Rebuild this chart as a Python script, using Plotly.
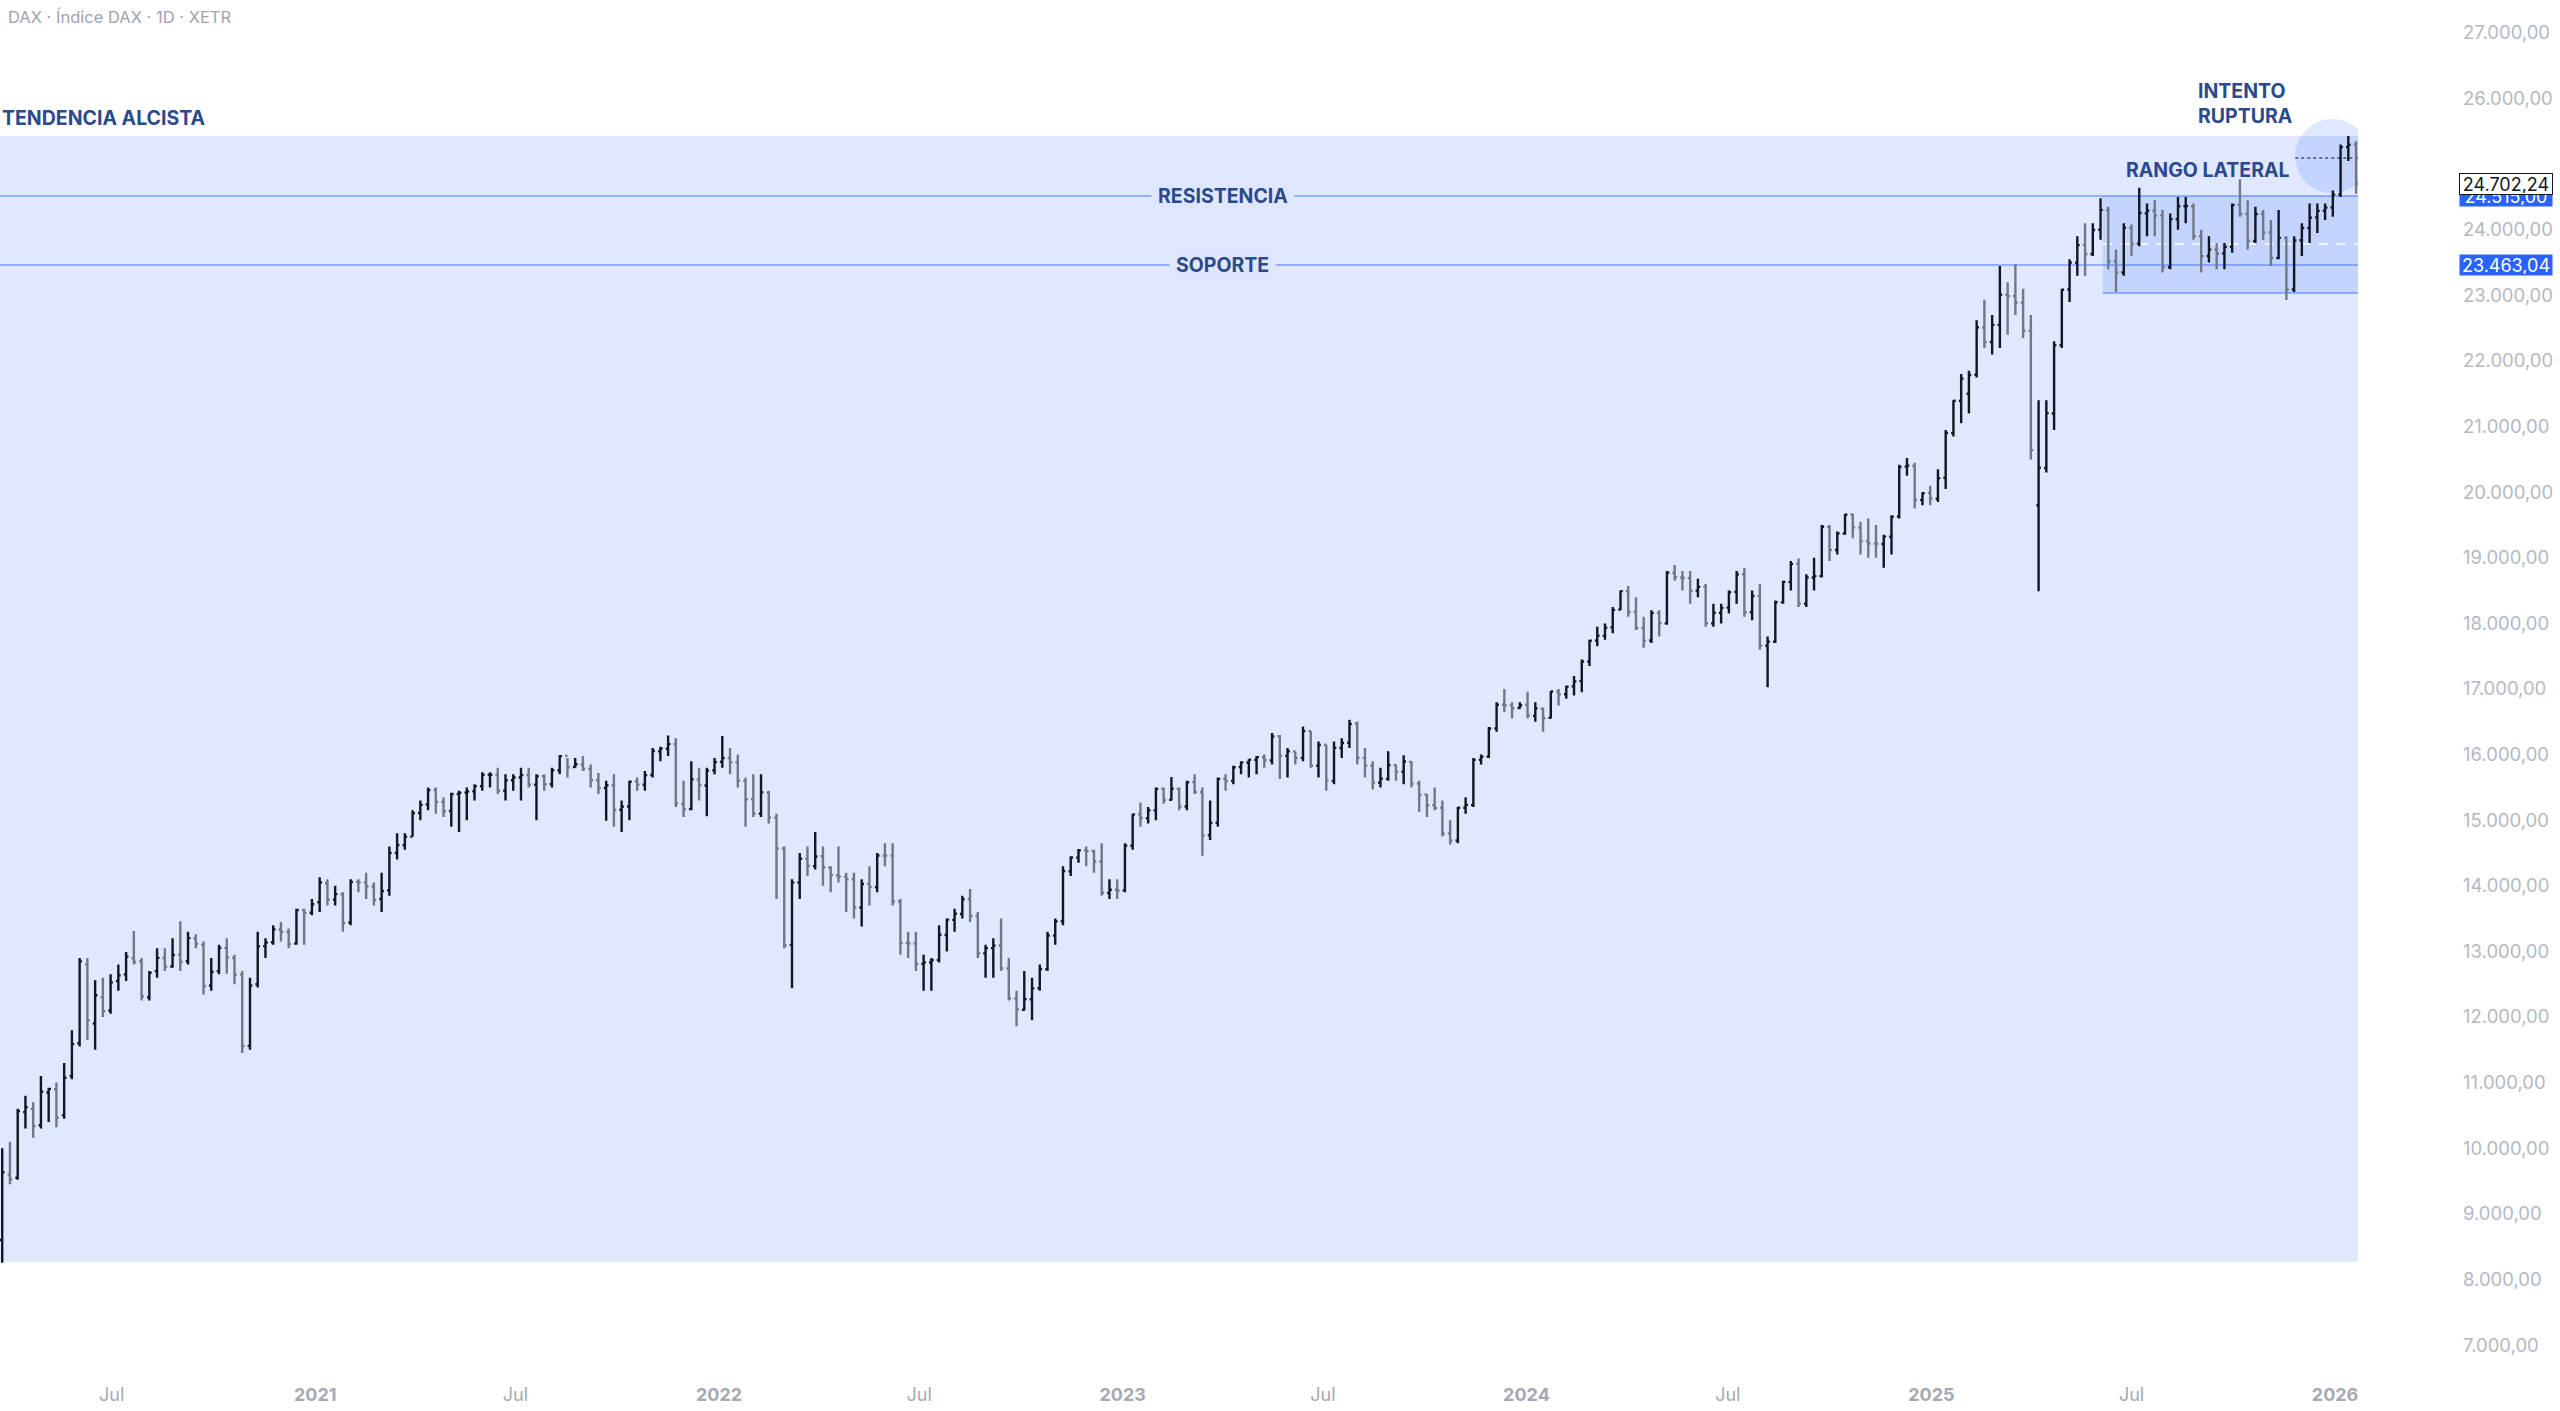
import pandas as pd
import plotly.graph_objects as go

# ---------------- DATA (weekly OHLC, DAX 1D chart) ----------------
open_ = [
    # 2020 (from week of 23 Mar)
    8600, 9600, 9550, 10550, 10600, 10350, 10850, 10900, 10500, 11100, 11600, 12800, 11900, 12300, 12100,
    12550, 12650, 12900, 12850, 12300, 12700, 12900, 12770, 12950, 12850, 13200, 13100, 12480, 12700, 13050,
    12900, 12650, 11560, 12500, 13080, 13140, 13330, 13300, 13120, 13630, 13590,
    # 2021
    13750, 14040, 13790, 13870, 13440, 14060, 14050, 13990, 13800, 13930, 14500, 14620, 14750, 15110, 15240,
    15460, 15280, 15140, 15400, 15420, 15440, 15520, 15690, 15690, 15450, 15610, 15650, 15690, 15540, 15670,
    15550, 15760, 15980, 15810, 15850, 15780, 15610, 15490, 15530, 15160, 15210, 15590, 15540, 15690, 16050,
    16090, 16160, 15250, 15170, 15620, 15530, 15760,
    # 2022
    15890, 15950, 15880, 15600, 15320, 15100, 15420, 15040, 14570, 13100, 14050, 14410, 14300, 14450, 14280,
    14160, 14140, 14100, 13670, 14030, 13980, 14460, 14460, 13760, 13130, 13120, 12810, 12830, 12870, 13250,
    13480, 13570, 13800, 13540, 12970, 13050, 13090, 12740, 12280, 12110, 12270, 12440, 12730, 13240, 13460,
    14220, 14430, 14540, 14530, 14370, 13890, 13940,
    # 2023
    13930, 14610, 15090, 15030, 15150, 15480, 15310, 15480, 15210, 15580, 15430, 14770, 14960, 15630, 15600,
    15810, 15880, 15920, 15960, 15910, 16280, 15980, 16050, 15950, 16360, 15830, 16150, 15600, 16100, 16180,
    16470, 15950, 15830, 15570, 15630, 15840, 15740, 15890, 15560, 15390, 15230, 15190, 14800, 14690, 15190,
    15230, 15920, 15970, 16400, 16760, 16750, 16710,
    # 2024
    16760, 16590, 16700, 16560, 16960, 16920, 17040, 17120, 17420, 17740, 17810, 17940, 18210, 18490, 18180,
    17930, 17740, 18160, 18000, 18770, 18700, 18690, 18500, 18560, 18000, 18160, 18240, 18480, 18750, 18170,
    18420, 17660, 17720, 18320, 18630, 18910, 18300, 18700, 18720, 19470, 19120, 19370, 19660, 19460, 19250,
    19220, 19210, 19320, 19630, 20390, 20400, 19880, 19990,
    # 2025 - 2026
    19900, 20220, 20900, 21390, 21500, 21790, 22510, 22290, 22550, 23010, 22990, 22890, 22460, 19800, 20370,
    21200, 22240, 23090, 23500, 23770, 23630, 24000, 24300, 23520, 23350, 24030, 23790, 24250, 24290, 24220,
    23430, 24160, 24360, 24360, 23900, 23600, 23700, 23640, 23740, 24380, 24240, 23830, 24240, 23960, 23570,
    23880, 23090, 23840, 24030, 24190, 24290, 24340, 24540, 25260, 25300,
]

high = [
    # 2020
    10000, 10100, 10600, 10800, 10700, 11100, 10920, 11000, 11300, 11800, 12900, 12900, 12560, 12600, 12650,
    12800, 12990, 13313, 12900, 12700, 13050, 13050, 13200, 13460, 13300, 13260, 13150, 12900, 13100, 13200,
    12950, 12700, 12600, 13300, 13200, 13400, 13450, 13350, 13650, 13650, 13800,
    # 2021
    14130, 14100, 14000, 13900, 14100, 14100, 14200, 14050, 14200, 14600, 14800, 14800, 15150, 15300, 15500,
    15500, 15350, 15420, 15450, 15500, 15550, 15730, 15730, 15800, 15700, 15700, 15800, 15800, 15700, 15700,
    15800, 15990, 15950, 15950, 15980, 15850, 15720, 15600, 15700, 15300, 15600, 15650, 15750, 16100, 16120,
    16290, 16250, 15600, 15900, 15800, 15800, 15950,
    # 2022
    16285, 16100, 16000, 15650, 15700, 15700, 15450, 15100, 14600, 14100, 14500, 14600, 14820, 14600, 14300,
    14600, 14200, 14200, 14100, 14300, 14500, 14650, 14650, 13800, 13300, 13300, 12950, 12900, 13400, 13500,
    13650, 13850, 13950, 13600, 13100, 13200, 13500, 12900, 12400, 12700, 12600, 12800, 13300, 13500, 14300,
    14450, 14560, 14600, 14550, 14650, 14100, 14100,
    # 2023
    14650, 15100, 15270, 15200, 15500, 15500, 15660, 15500, 15600, 15700, 15500, 15300, 15650, 15700, 15830,
    15900, 15930, 15980, 16000, 16330, 16300, 16100, 16050, 16430, 16360, 16200, 16150, 16200, 16250, 16530,
    16500, 16100, 15900, 15800, 16050, 15850, 15990, 15900, 15600, 15400, 15500, 15300, 15000, 15200, 15350,
    15950, 16000, 16420, 16800, 17000, 16800, 16800,
    # 2024
    16960, 16800, 16720, 16970, 17000, 17050, 17200, 17450, 17750, 17950, 18000, 18250, 18500, 18570, 18400,
    18100, 18200, 18200, 18800, 18890, 18800, 18800, 18680, 18600, 18300, 18300, 18500, 18800, 18850, 18500,
    18600, 17800, 18350, 18650, 18950, 18990, 18750, 19000, 19500, 19500, 19400, 19670, 19670, 19550, 19600,
    19500, 19350, 19650, 20420, 20520, 20450, 20000, 20100,
    # 2025 - 2026
    20350, 20950, 21400, 21800, 21850, 22620, 22935, 22700, 23450, 23200, 23476, 23100, 22700, 21400, 21400,
    22300, 23100, 23550, 23900, 24100, 24100, 24480, 24350, 23700, 24100, 24080, 24640, 24400, 24450, 24300,
    24250, 24500, 24500, 24400, 24000, 23900, 23800, 23800, 24400, 24770, 24450, 24350, 24300, 24150, 24300,
    23900, 23900, 24100, 24400, 24400, 24400, 24600, 25300, 25430, 25350,
]

low = [
    # 2020
    8255, 9450, 9520, 10300, 10160, 10300, 10400, 10320, 10450, 11050, 11550, 11650, 11500, 12000, 12050,
    12400, 12550, 12800, 12250, 12250, 12600, 12700, 12750, 12700, 12800, 13050, 12340, 12400, 12650, 12660,
    12500, 11450, 11500, 12450, 12900, 13100, 13150, 13050, 13100, 13100, 13550,
    # 2021
    13600, 13700, 13700, 13300, 13400, 13900, 13800, 13700, 13600, 13850, 14400, 14550, 14750, 15000, 15150,
    15100, 15050, 14900, 14820, 15000, 15300, 15450, 15500, 15400, 15300, 15450, 15300, 15500, 15000, 15450,
    15500, 15700, 15650, 15800, 15750, 15500, 15400, 14990, 14900, 14820, 15000, 15450, 15450, 15650, 15900,
    15980, 15200, 15050, 15150, 15300, 15060, 15700,
    # 2022
    15800, 15700, 15500, 14900, 15050, 15050, 14950, 13800, 13050, 12440, 13800, 14150, 14250, 14000, 13900,
    14050, 13600, 13500, 13380, 13700, 13900, 14300, 13700, 12950, 12900, 12700, 12400, 12400, 12830, 13000,
    13300, 13500, 13450, 12900, 12600, 12600, 12700, 12250, 11860, 12100, 11950, 12400, 12700, 13100, 13400,
    14150, 14350, 14300, 14200, 13850, 13800, 13800,
    # 2023
    13900, 14550, 14900, 14950, 15000, 15250, 15300, 15150, 15150, 15400, 14460, 14700, 14900, 15450, 15550,
    15700, 15650, 15700, 15800, 15850, 15630, 15650, 15850, 15900, 15800, 15650, 15450, 15550, 15950, 16100,
    15850, 15650, 15470, 15500, 15600, 15600, 15550, 15500, 15130, 15050, 15150, 14750, 14630, 14650, 15100,
    15200, 15850, 15950, 16350, 16650, 16550, 16700,
    # 2024
    16550, 16500, 16350, 16550, 16750, 16850, 16900, 16950, 17350, 17650, 17750, 17850, 18200, 18100, 17900,
    17630, 17700, 17800, 17980, 18650, 18500, 18300, 18400, 17950, 17950, 18000, 18150, 18300, 18100, 18050,
    17600, 17025, 17700, 18300, 18500, 18250, 18250, 18500, 18700, 18950, 19050, 19350, 19300, 19050, 19000,
    19000, 18850, 19050, 19600, 20250, 19750, 19800, 19800,
    # 2025 - 2026
    19850, 20050, 20850, 21050, 21200, 21750, 22200, 22100, 22200, 22400, 22700, 22350, 20500, 18490, 20300,
    20950, 22200, 22900, 23300, 23300, 23600, 23850, 23400, 23050, 23300, 23600, 23750, 23900, 23900, 23350,
    23400, 24000, 24100, 23850, 23350, 23500, 23400, 23400, 23650, 24200, 23700, 23800, 23850, 23450, 23550,
    22930, 23050, 23600, 23800, 23950, 24150, 24200, 24500, 25050, 24550,
]

close = [
    # 2020
    9633, 9525, 10565, 10626, 10336, 10862, 10904, 10465, 11074, 11586, 12848, 11949, 12331, 12089, 12528,
    12634, 12920, 12838, 12313, 12674, 12901, 12765, 12945, 12843, 13202, 13116, 12469, 12689, 13051, 12909,
    12645, 11556, 12480, 13077, 13137, 13336, 13299, 13114, 13631, 13587, 13719,
    # 2021
    14050, 13788, 13873, 13433, 14057, 14050, 13993, 13786, 13920, 14502, 14621, 14749, 15107, 15234, 15459,
    15280, 15136, 15400, 15417, 15438, 15520, 15693, 15693, 15448, 15607, 15650, 15688, 15540, 15669, 15544,
    15761, 15977, 15808, 15852, 15781, 15610, 15490, 15532, 15156, 15207, 15587, 15543, 15688, 16054, 16094,
    16160, 15257, 15169, 15623, 15532, 15756, 15885,
    # 2022
    15948, 15883, 15603, 15318, 15100, 15425, 15042, 14567, 13095, 14048, 14413, 14306, 14446, 14284, 14163,
    14142, 14098, 13674, 14027, 13982, 14463, 14460, 13762, 13127, 13118, 12813, 12833, 12865, 13254, 13484,
    13574, 13795, 13544, 12971, 13050, 13088, 12741, 12284, 12114, 12273, 12437, 12731, 13243, 13460, 14224,
    14431, 14541, 14529, 14371, 13894, 13940, 13924,
    # 2023
    14610, 15087, 15033, 15150, 15476, 15308, 15482, 15210, 15578, 15428, 14768, 14957, 15629, 15598, 15808,
    15882, 15922, 15961, 15914, 16275, 15984, 16051, 15949, 16358, 15830, 16147, 15603, 16105, 16177, 16469,
    15952, 15832, 15574, 15632, 15840, 15740, 15894, 15557, 15386, 15229, 15186, 14798, 14688, 15189, 15234,
    15919, 15967, 16397, 16759, 16751, 16706, 16752,
    # 2024
    16594, 16705, 16555, 16961, 16918, 17037, 17117, 17419, 17735, 17814, 17936, 18206, 18492, 18175, 17930,
    17737, 18161, 18002, 18773, 18704, 18693, 18498, 18557, 18002, 18163, 18235, 18475, 18748, 18171, 18418,
    17661, 17722, 18322, 18633, 18907, 18302, 18700, 18720, 19474, 19121, 19373, 19657, 19464, 19254, 19216,
    19210, 19323, 19626, 20385, 20405, 19885, 19985, 19906,
    # 2025 - 2026
    20215, 20903, 21394, 21732, 21787, 22513, 22287, 22551, 23009, 22987, 22892, 22461, 20641, 20374, 21206,
    22242, 23087, 23499, 23767, 23630, 23997, 24304, 23516, 23350, 24033, 23787, 24255, 24290, 24218, 23426,
    24163, 24359, 24363, 23902, 23597, 23698, 23639, 23739, 24378, 24241, 23830, 24240, 23958, 23569, 23877,
    23091, 23837, 24028, 24186, 24288, 24340, 24539, 25261, 25297, 24702.24,
]

first_week = "2020-03-24"

# annotation levels
trend_top, trend_bottom = 25430, 8270
resistance = 24515
support = 23463.04
range_bottom = 23037
range_mid = 23784
range_start = "2025-06-05"
last_price = 24702.24
circle_x = ("2025-11-26", "2026-02-01")
circle_y = (24561, 25689)
dotted_level = 25095

x_ticks = ["2020-07-01", "2021-01-01", "2021-07-01", "2022-01-01", "2022-07-01", "2023-01-01",
           "2023-07-01", "2024-01-01", "2024-07-01", "2025-01-01", "2025-07-01", "2026-01-01"]
x_tick_text = ["Jul", "<b>2021</b>", "Jul", "<b>2022</b>", "Jul", "<b>2023</b>", "Jul", "<b>2024</b>",
               "Jul", "<b>2025</b>", "Jul", "<b>2026</b>"]
y_ticks = [7000, 8000, 9000, 10000, 11000, 12000, 13000, 14000, 15000, 16000, 17000, 18000, 19000,
           20000, 21000, 22000, 23000, 24000, 26000, 27000]

# ---------------- FIGURE ----------------
W, H = 2560, 1411
PLOT_W = 2358
BOTTOM = 36
PLOT_H = H - BOTTOM

n = min(len(open_), len(high), len(low), len(close))
dates = pd.date_range(first_week, periods=n, freq="7D")

BLUE_FILL = "rgba(41,98,255,0.15)"
BLUE_LINE = "rgba(41,98,255,0.42)"
RECT_BG = "#dfe7ff"
NAVY = "#2b4a8b"
FONT = "Inter, Roboto, 'Noto Sans', sans-serif"


def eu(v):
    return f"{v:,.2f}".replace(",", "X").replace(".", ",").replace("X", ".")


fig = go.Figure()
fig.add_trace(go.Ohlc(
    x=dates, open=open_[:n], high=high[:n], low=low[:n], close=close[:n],
    increasing=dict(line=dict(color="#131722", width=2.4)),
    decreasing=dict(line=dict(color="#737784", width=2.4)),
    tickwidth=0.3, showlegend=False, hoverinfo="skip",
))

far_left, far_right = "2020-01-01", "2026-06-01"
shapes = [
    dict(type="rect", xref="x", yref="y", x0=far_left, x1=far_right, y0=trend_bottom, y1=trend_top,
         fillcolor=BLUE_FILL, line=dict(width=0), layer="below"),
    dict(type="rect", xref="x", yref="y", x0=range_start, x1=far_right, y0=range_bottom, y1=resistance,
         fillcolor=BLUE_FILL, line=dict(width=0), layer="below"),
    dict(type="circle", xref="x", yref="y", x0=circle_x[0], x1=circle_x[1], y0=circle_y[0], y1=circle_y[1],
         fillcolor=BLUE_FILL, line=dict(width=0), layer="below"),
    dict(type="line", xref="x", yref="y", x0=far_left, x1=far_right, y0=resistance, y1=resistance,
         line=dict(color=BLUE_LINE, width=2), layer="below"),
    dict(type="line", xref="x", yref="y", x0=far_left, x1=far_right, y0=support, y1=support,
         line=dict(color=BLUE_LINE, width=2), layer="below"),
    dict(type="line", xref="x", yref="y", x0=range_start, x1=far_right, y0=range_bottom, y1=range_bottom,
         line=dict(color=BLUE_LINE, width=2), layer="below"),
    dict(type="line", xref="x", yref="y", x0=range_start, x1=far_right, y0=range_mid, y1=range_mid,
         line=dict(color="white", width=1.5, dash="dash"), layer="below"),
    dict(type="line", xref="x", yref="y", x0=circle_x[0], x1=far_right, y0=dotted_level, y1=dotted_level,
         line=dict(color="#4a4e5a", width=1.5, dash="dot"), layer="below"),
]


def px_x(px):
    return px / PLOT_W


def px_y(py):
    return 1 - py / PLOT_H


annotations = [
    dict(text="DAX · Índice DAX · 1D · XETR", xref="paper", yref="paper", x=px_x(6), y=px_y(17),
         xanchor="left", yanchor="middle", showarrow=False, font=dict(family=FONT, size=16.5, color="#9fa2ab")),
    dict(text="<b>TENDENCIA ALCISTA</b>", xref="paper", yref="paper", x=0, y=px_y(118),
         xanchor="left", yanchor="middle", showarrow=False, font=dict(family=FONT, size=19.5, color=NAVY)),
    dict(text="<b>RESISTENCIA</b>", xref="paper", yref="y", x=px_x(1223), y=resistance,
         xanchor="center", yanchor="middle", showarrow=False, bgcolor=RECT_BG, borderpad=6,
         font=dict(family=FONT, size=19.5, color=NAVY)),
    dict(text="<b>SOPORTE</b>", xref="paper", yref="y", x=px_x(1223), y=support,
         xanchor="center", yanchor="middle", showarrow=False, bgcolor=RECT_BG, borderpad=6,
         font=dict(family=FONT, size=19.5, color=NAVY)),
    dict(text="<b>RANGO LATERAL</b>", xref="paper", yref="paper", x=px_x(2292), y=px_y(170),
         xanchor="right", yanchor="middle", showarrow=False, font=dict(family=FONT, size=19.5, color=NAVY)),
    dict(text="<b>INTENTO<br>RUPTURA</b>", xref="paper", yref="paper", x=px_x(2196), y=px_y(103),
         xanchor="left", yanchor="middle", align="left", showarrow=False,
         font=dict(family=FONT, size=19.5, color=NAVY)),
    # price-scale labels (the resistance label sits partly under the last-price label, as in the reference)
    dict(text=eu(resistance), xref="paper", yref="y", x=px_x(2506), y=resistance, xanchor="center",
         yanchor="middle", showarrow=False, bgcolor="#2962ff", width=90, height=18, borderpad=1,
         font=dict(family=FONT, size=18, color="white")),
    dict(text=eu(support), xref="paper", yref="y", x=px_x(2506), y=support, xanchor="center",
         yanchor="middle", showarrow=False, bgcolor="#2962ff", width=90, height=18, borderpad=1,
         font=dict(family=FONT, size=18, color="white")),
    dict(text=eu(last_price), xref="paper", yref="y", x=px_x(2506), y=last_price, xanchor="center",
         yanchor="middle", showarrow=False, bgcolor="white", bordercolor="#131722", borderwidth=1,
         width=90, height=18, borderpad=1, font=dict(family=FONT, size=18, color="#131722")),
]

fig.update_layout(
    width=W, height=H,
    margin=dict(l=0, r=W - PLOT_W, t=0, b=BOTTOM),
    paper_bgcolor="white", plot_bgcolor="white",
    separators=",.",
    shapes=shapes, annotations=annotations,
    showlegend=False,
    font=dict(family=FONT),
    xaxis=dict(
        type="date", range=["2020-03-22", "2026-01-21 18:00"],
        rangeslider=dict(visible=False),
        showgrid=False, zeroline=False, showline=False, ticks="",
        tickmode="array", tickvals=x_ticks, ticktext=x_tick_text,
        tickfont=dict(family=FONT, size=18, color="#a6a9b1"),
        ticklabelstandoff=7,
    ),
    yaxis=dict(
        side="right", range=[6543, 27503],
        showgrid=False, zeroline=False, showline=False, ticks="",
        tickmode="array", tickvals=y_ticks, tickformat=",.2f",
        tickfont=dict(family=FONT, size=18.5, color="#b5b8c0"),
        ticklabelstandoff=104,
    ),
)

fig.write_html("out.html", config=dict(displayModeBar=False),
               post_script="document.body.style.margin='0';document.body.style.overflow='hidden';")
